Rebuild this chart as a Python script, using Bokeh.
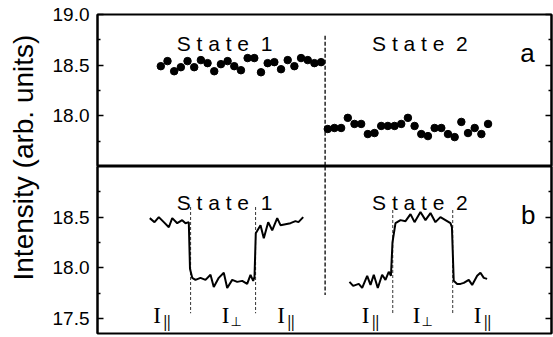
from math import pi
from bokeh.plotting import figure
from bokeh.models import Range1d, LinearAxis, FixedTicker, Label, PrintfTickFormatter
from bokeh.layouts import row, column
from bokeh.embed import file_html
from bokeh.resources import INLINE
from bokeh.core.properties import value

# ---------------- data ----------------
# panel a: single measurements (index) and intensity
dots1_n = list(range(1, 26))
dots1_val = [18.49, 18.54, 18.44, 18.48, 18.54, 18.48, 18.55, 18.52, 18.44, 18.51,
             18.54, 18.49, 18.45, 18.57, 18.57, 18.43, 18.52, 18.53, 18.46, 18.55,
             18.49, 18.57, 18.55, 18.52, 18.53]
dots2_n = list(range(26, 51))
dots2_val = [17.87, 17.88, 17.88, 17.98, 17.92, 17.92, 17.82, 17.83, 17.90, 17.90,
             17.90, 17.92, 17.98, 17.90, 17.82, 17.80, 17.88, 17.88, 17.82, 17.79,
             17.94, 17.83, 17.88, 17.82, 17.92]

# panel b: traces
trace1_x = [-0.65, 0.06, 0.70, 1.45, 2.20, 2.71, 3.46, 4.20, 4.70, 5.19, 5.37, 5.70,
            6.19, 6.94, 7.69, 8.44, 8.93, 9.68, 10.43, 10.94, 11.69, 12.44, 13.19,
            13.93, 14.43, 14.83, 15.03, 15.22, 15.93, 16.42, 17.08, 17.68, 18.43,
            18.92, 19.67, 20.42, 21.16, 21.61, 22.32]
trace1_y = [18.49, 18.45, 18.50, 18.45, 18.40, 18.49, 18.44, 18.47, 18.44, 18.45, 17.99, 17.90,
            17.88, 17.90, 17.88, 17.93, 17.81, 17.90, 17.95, 17.80, 17.88, 17.86, 17.87,
            17.84, 17.93, 17.87, 17.91, 18.34, 18.42, 18.29, 18.45, 18.37, 18.49,
            18.42, 18.43, 18.44, 18.46, 18.45, 18.50]
trace2_x = [29.25, 29.80, 30.64, 31.15, 31.90, 32.40, 32.89, 33.49, 34.14, 34.64, 35.13,
            35.46, 35.69, 36.14, 36.89, 37.64, 38.39, 38.99, 39.88, 40.63, 41.38, 42.12,
            42.87, 43.62, 44.37, 44.59, 44.86, 45.37, 45.87, 46.37, 47.11, 47.62, 48.37,
            48.86, 49.36, 49.86]
trace2_y = [17.86, 17.82, 17.84, 17.80, 17.92, 17.83, 17.93, 17.80, 17.93, 17.88, 17.96,
            17.92, 18.25, 18.44, 18.47, 18.46, 18.53, 18.45, 18.55, 18.47, 18.54, 18.45,
            18.50, 18.47, 18.44, 18.40, 17.87, 17.84, 17.84, 17.85, 17.88, 17.83, 17.92,
            17.95, 17.90, 17.89]

state_switch_n = 25.6
pol_switch_n = [5.46, 15.19, 35.73, 44.71]
pol_switch_top = [18.60, 18.60, 18.57, 18.57]
pol_switch_bottom = [17.55, 17.55, 17.55, 17.55]

state_names = ["S t a t e\u00a0 1", "S t a t e\u00a0 2"]
state_name_n = [10.54, 39.80]
state_name_y_a = [18.71, 18.71]
state_name_y_b = [18.64, 18.64]

par_label_n = [1.18, 19.74, 32.39, 49.16]
perp_label_n = [11.43, 40.03]

top_ticks = [18.0, 18.5, 19.0]
bottom_ticks = [17.5, 18.0, 18.5]
minor_ticks = [17.75, 18.25, 18.75]

X_RANGE = (-8.48, 59.5)
FONT = "Liberation Sans"


def style(p, ticks):
    p.outline_line_color = "black"
    p.outline_line_width = 2
    p.grid.visible = False
    p.background_fill_color = "white"
    p.border_fill_color = "white"
    left = p.yaxis[0]
    right = LinearAxis()
    p.add_layout(right, "right")
    for ax in (left, right):
        ax.ticker = FixedTicker(ticks=ticks, minor_ticks=minor_ticks)
        ax.formatter = PrintfTickFormatter(format="%.1f")
        ax.axis_line_width = 2
        ax.major_tick_line_width = 1.5
        ax.minor_tick_line_width = 1.5
        ax.major_tick_in = 6
        ax.major_tick_out = 0
        ax.minor_tick_in = 3
        ax.minor_tick_out = 0
        ax.major_label_text_font = FONT
    left.major_label_text_color = "black"
    left.major_label_text_font_size = "19px"
    left.major_label_standoff = 8
    right.major_label_text_color = None
    right.major_label_text_font_size = "0px"
    right.major_label_standoff = 0


# ---------------- panel a ----------------
pa = figure(width=513, height=166, output_backend="svg", toolbar_location=None,
            x_range=Range1d(*X_RANGE), y_range=Range1d(17.5, 19.0),
            x_axis_location=None, min_border_left=57, min_border_right=2,
            min_border_top=14, min_border_bottom=0)
style(pa, top_ticks)
pa.segment(x0=[state_switch_n], y0=[18.79], x1=[state_switch_n], y1=[17.5],
           line_color="black", line_width=1.3, line_dash="4 2")
pa.scatter(x=dots1_n, y=dots1_val, size=7.5, color="black")
pa.scatter(x=dots2_n, y=dots2_val, size=7.5, color="black")
pa.text(x=state_name_n, y=state_name_y_a, text=state_names, text_align="center",
        text_baseline="alphabetic", text_font=value(FONT), text_font_size=value("21px"),
        text_color="black")
pa.text(x=[55.9], y=[18.625], text=["a"], text_align="center", text_baseline="alphabetic",
        text_font=value(FONT), text_font_size=value("26px"), text_color="black")

# ---------------- panel b ----------------
pb = figure(width=513, height=171, output_backend="svg", toolbar_location=None,
            x_range=Range1d(*X_RANGE), y_range=Range1d(17.35, 19.0),
            x_axis_location=None, min_border_left=57, min_border_right=2,
            min_border_top=0, min_border_bottom=4)
style(pb, bottom_ticks)
pb.segment(x0=[state_switch_n], y0=[19.0], x1=[state_switch_n], y1=[17.73],
           line_color="black", line_width=1.3, line_dash="4 2")
pb.segment(x0=pol_switch_n, y0=pol_switch_top, x1=pol_switch_n, y1=pol_switch_bottom,
           line_color="#333333", line_width=1, line_dash="3 2")
pb.line(trace1_x, trace1_y, line_color="black", line_width=2)
pb.line(trace2_x, trace2_y, line_color="black", line_width=2)
pb.text(x=state_name_n, y=state_name_y_b, text=state_names, text_align="center",
        text_baseline="alphabetic", text_font=value(FONT), text_font_size=value("21px"),
        text_color="black")
pb.text(x=[56.0], y=[18.52], text=["b"], text_align="center", text_baseline="alphabetic",
        text_font=value(FONT), text_font_size=value("26px"), text_color="black")
all_label_n = par_label_n + perp_label_n
pb.text(x=all_label_n, y=[17.525] * len(all_label_n), text=["I"] * len(all_label_n),
        text_align="right", text_baseline="alphabetic", x_offset=-1,
        text_font=value("Liberation Serif"), text_font_size=value("23px"), text_color="black")
pb.text(x=par_label_n, y=[17.465] * len(par_label_n), text=["||"] * len(par_label_n),
        text_align="left", text_baseline="alphabetic", x_offset=1.5,
        text_font=value("Liberation Serif"), text_font_size=value("16px"),
        text_font_style="bold", text_color="black")
pb.text(x=perp_label_n, y=[17.465] * len(perp_label_n), text=["\u22a5"] * len(perp_label_n),
        text_align="left", text_baseline="alphabetic", x_offset=0,
        text_font=value("DejaVu Sans"), text_font_size=value("13px"), text_color="black")

# ---------------- y label ----------------
pl = figure(width=40, height=337, output_backend="svg", toolbar_location=None,
            x_range=Range1d(0, 1), y_range=Range1d(0, 1),
            x_axis_location=None, y_axis_location=None,
            min_border_left=0, min_border_right=0, min_border_top=0, min_border_bottom=0)
pl.outline_line_color = None
pl.grid.visible = False
pl.add_layout(Label(x=0.575, y=0.534, text="Intensity (arb. units)", angle=pi / 2,
                    text_align="center", text_baseline="middle",
                    text_font=FONT, text_font_size="28px", text_color="black"))

layout = row(pl, column(pa, pb, spacing=0), spacing=0)
open("out.html", "w").write(file_html(layout, INLINE))
